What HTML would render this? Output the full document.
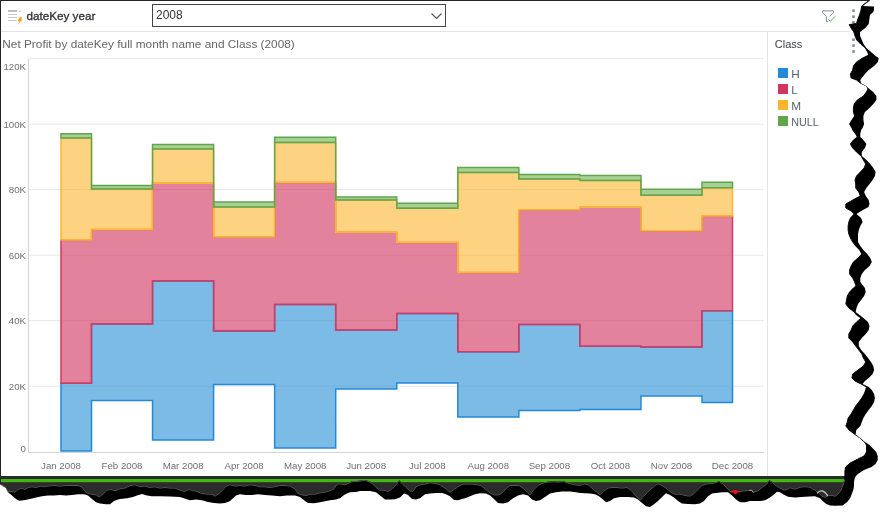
<!DOCTYPE html>
<html><head><meta charset="utf-8"><style>
*{margin:0;padding:0;box-sizing:border-box}
html,body{width:892px;height:523px;overflow:hidden;background:#fff}
body{position:relative;font-family:"Liberation Sans",sans-serif}
.abs{position:absolute}
svg{position:absolute;left:0;top:0;will-change:transform}
</style></head><body>
<svg width="892" height="523" viewBox="0 0 892 523" font-family="Liberation Sans, sans-serif">
<!-- bottom dark bar -->
<rect x="0" y="476" width="846" height="40" fill="#2b2b2b"/>
<rect x="0" y="479" width="846" height="3.2" fill="#3fb70f"/>
<!-- header -->
<g fill="#c6c6c6">
<rect x="8" y="10" width="9" height="2" fill="#bdbdbd"/>
<rect x="8" y="14" width="9" height="1"/>
<rect x="8" y="17" width="9" height="1"/>
<rect x="8" y="20" width="8" height="1"/>
</g>
<path d="M18.2,10.6 L19.6,12 L21,10.6" fill="none" stroke="#b0b0b0" stroke-width="0.8"/>
<path d="M19.6,17.2 L22.4,17.2 L21.1,19.5 L22.6,19.5 L18.2,24 L19.5,21.2 L17.6,21.2 Z" fill="#f7a21b"/>
<text x="26.4" y="19.8" font-size="11.8px" fill="#33333d" stroke="#33333d" stroke-width="0.35" textLength="69" lengthAdjust="spacingAndGlyphs">dateKey year</text>
<rect x="152.5" y="4.5" width="293" height="22" fill="#fff" stroke="#444" stroke-width="1"/>
<text x="156" y="18.6" font-size="12px" fill="#333">2008</text>
<path d="M431.5,13.5 L436.5,18.5 L441.5,13.5" fill="none" stroke="#555" stroke-width="1.2"/>
<!-- filter icon -->
<path d="M822.6,12.8 L822.6,10.9 L833.5,10.9 L833.5,12.8 L829.6,16.4 M822.9,13 L826.4,16.6 L826.4,21.6 L827.8,21.6" fill="none" stroke="#7d8c9c" stroke-width="1"/>
<path d="M828.1,19.4 L830.3,21.4 L835.2,16.3" fill="none" stroke="#46bb46" stroke-width="0.95"/>
<g fill="#7b8fa3">
<rect x="852.2" y="9.4" width="2.6" height="2.6"/><rect x="852.2" y="15.4" width="2.6" height="2.6"/><rect x="852.2" y="21" width="2.6" height="2.6"/>
<rect x="852.2" y="38.4" width="2.6" height="2.6"/><rect x="852.2" y="44.3" width="2.6" height="2.6"/><rect x="852.2" y="50.2" width="2.6" height="2.6"/>
</g>
<line x1="1" x2="850" y1="31.5" y2="31.5" stroke="#e3e3e3" stroke-width="1"/>
<text x="2.3" y="47.6" font-size="11.6px" fill="#666" textLength="292.5" lengthAdjust="spacingAndGlyphs">Net Profit by dateKey full month name and Class (2008)</text>
<!-- legend -->
<line x1="767.5" x2="767.5" y1="32" y2="476" stroke="#e3e3e3" stroke-width="1"/>
<text x="774.8" y="47.5" font-size="11px" fill="#3c4450">Class</text>
<rect x="778" y="68" width="10" height="10" fill="#2489d8"/>
<rect x="778" y="84" width="10" height="10" fill="#d1365e"/>
<rect x="778" y="100" width="10" height="10" fill="#fdb52d"/>
<rect x="778" y="116" width="10" height="10" fill="#5fa64c"/>
<g font-size="11.8px" fill="#5a636e">
<text x="791.2" y="78">H</text>
<text x="791.2" y="94">L</text>
<text x="791.2" y="110">M</text>
<text x="791.2" y="126" textLength="27.6" lengthAdjust="spacingAndGlyphs">NULL</text>
</g>
<!-- chart -->
<line x1="28.5" x2="764" y1="386.2" y2="386.2" stroke="#e6e6e6" stroke-width="1"/>
<line x1="28.5" x2="764" y1="320.7" y2="320.7" stroke="#e6e6e6" stroke-width="1"/>
<line x1="28.5" x2="764" y1="255.2" y2="255.2" stroke="#e6e6e6" stroke-width="1"/>
<line x1="28.5" x2="764" y1="189.7" y2="189.7" stroke="#e6e6e6" stroke-width="1"/>
<line x1="28.5" x2="764" y1="124.2" y2="124.2" stroke="#e6e6e6" stroke-width="1"/>
<line x1="28.5" x2="764" y1="58.7" y2="58.7" stroke="#e6e6e6" stroke-width="1"/>
<line x1="28.5" x2="28.5" y1="59" y2="452.5" stroke="#d4d4d4" stroke-width="1"/>
<line x1="28" x2="764" y1="452.5" y2="452.5" stroke="#d4d4d4" stroke-width="1"/>

<g font-size="9.7px" fill="#707070">
<text x="26" y="451.9" text-anchor="end">0</text>
<text x="26" y="389.9" text-anchor="end">20K</text>
<text x="26" y="324.4" text-anchor="end">40K</text>
<text x="26" y="258.9" text-anchor="end">60K</text>
<text x="26" y="193.4" text-anchor="end">80K</text>
<text x="26" y="127.9" text-anchor="end">100K</text>
<text x="26" y="70.3" text-anchor="end">120K</text>
<text x="61.0" y="469.1" text-anchor="middle">Jan 2008</text>
<text x="122.0" y="469.1" text-anchor="middle">Feb 2008</text>
<text x="183.1" y="469.1" text-anchor="middle">Mar 2008</text>
<text x="244.1" y="469.1" text-anchor="middle">Apr 2008</text>
<text x="305.2" y="469.1" text-anchor="middle">May 2008</text>
<text x="366.2" y="469.1" text-anchor="middle">Jun 2008</text>
<text x="427.3" y="469.1" text-anchor="middle">Jul 2008</text>
<text x="488.3" y="469.1" text-anchor="middle">Aug 2008</text>
<text x="549.4" y="469.1" text-anchor="middle">Sep 2008</text>
<text x="610.4" y="469.1" text-anchor="middle">Oct 2008</text>
<text x="671.5" y="469.1" text-anchor="middle">Nov 2008</text>
<text x="732.5" y="469.1" text-anchor="middle">Dec 2008</text>

</g>
<polygon points="61.00,383.30 91.50,383.30 91.50,323.90 152.55,323.90 152.55,280.90 213.60,280.90 213.60,331.00 274.65,331.00 274.65,304.50 335.70,304.50 335.70,330.00 396.75,330.00 396.75,313.60 457.80,313.60 457.80,351.70 518.85,351.70 518.85,324.50 579.90,324.50 579.90,346.30 640.95,346.30 640.95,347.00 702.00,347.00 702.00,310.70 732.50,310.70 732.50,402.60 702.00,402.60 702.00,396.00 640.95,396.00 640.95,409.50 579.90,409.50 579.90,410.60 518.85,410.60 518.85,417.10 457.80,417.10 457.80,383.00 396.75,383.00 396.75,389.00 335.70,389.00 335.70,448.00 274.65,448.00 274.65,384.40 213.60,384.40 213.60,440.00 152.55,440.00 152.55,400.40 91.50,400.40 91.50,451.00 61.00,451.00" fill="#238ed5" fill-opacity="0.6" stroke="#2389d7" stroke-width="1.5" stroke-linejoin="miter"/>
<polygon points="61.00,240.00 91.50,240.00 91.50,229.40 152.55,229.40 152.55,183.20 213.60,183.20 213.60,236.90 274.65,236.90 274.65,182.50 335.70,182.50 335.70,232.30 396.75,232.30 396.75,242.60 457.80,242.60 457.80,272.50 518.85,272.50 518.85,209.70 579.90,209.70 579.90,207.20 640.95,207.20 640.95,230.80 702.00,230.80 702.00,215.90 732.50,215.90 732.50,310.70 702.00,310.70 702.00,347.00 640.95,347.00 640.95,346.30 579.90,346.30 579.90,324.50 518.85,324.50 518.85,351.70 457.80,351.70 457.80,313.60 396.75,313.60 396.75,330.00 335.70,330.00 335.70,304.50 274.65,304.50 274.65,331.00 213.60,331.00 213.60,280.90 152.55,280.90 152.55,323.90 91.50,323.90 91.50,383.30 61.00,383.30" fill="#cf2f5a" fill-opacity="0.6" stroke="#d13b64" stroke-width="1.5" stroke-linejoin="miter"/>
<polygon points="61.00,137.90 91.50,137.90 91.50,189.10 152.55,189.10 152.55,149.00 213.60,149.00 213.60,207.00 274.65,207.00 274.65,142.40 335.70,142.40 335.70,200.00 396.75,200.00 396.75,208.20 457.80,208.20 457.80,172.60 518.85,172.60 518.85,179.00 579.90,179.00 579.90,180.50 640.95,180.50 640.95,195.30 702.00,195.30 702.00,187.80 732.50,187.80 732.50,215.90 702.00,215.90 702.00,230.80 640.95,230.80 640.95,207.20 579.90,207.20 579.90,209.70 518.85,209.70 518.85,272.50 457.80,272.50 457.80,242.60 396.75,242.60 396.75,232.30 335.70,232.30 335.70,182.50 274.65,182.50 274.65,236.90 213.60,236.90 213.60,183.20 152.55,183.20 152.55,229.40 91.50,229.40 91.50,240.00 61.00,240.00" fill="#fcb62f" fill-opacity="0.6" stroke="#fdb632" stroke-width="1.5" stroke-linejoin="miter"/>
<polygon points="61.00,133.70 91.50,133.70 91.50,185.50 152.55,185.50 152.55,144.40 213.60,144.40 213.60,202.10 274.65,202.10 274.65,137.20 335.70,137.20 335.70,197.00 396.75,197.00 396.75,203.20 457.80,203.20 457.80,167.60 518.85,167.60 518.85,174.50 579.90,174.50 579.90,175.50 640.95,175.50 640.95,189.30 702.00,189.30 702.00,182.30 732.50,182.30 732.50,187.80 702.00,187.80 702.00,195.30 640.95,195.30 640.95,180.50 579.90,180.50 579.90,179.00 518.85,179.00 518.85,172.60 457.80,172.60 457.80,208.20 396.75,208.20 396.75,200.00 335.70,200.00 335.70,142.40 274.65,142.40 274.65,207.00 213.60,207.00 213.60,149.00 152.55,149.00 152.55,189.10 91.50,189.10 91.50,137.90 61.00,137.90" fill="#6bb150" fill-opacity="0.6" stroke="#5fa64c" stroke-width="1.5" stroke-linejoin="miter"/>

<!-- torn: outside content => black -->
<path d="M-5,-5 L897,-5 L897,528 L-5,528 Z M0.0,0.0 L869.5,0.0 L861.5,6.3 L861.5,7.0 L861.0,10.0 L859.5,15.0 L857.5,20.0 L856.5,23.4 L849.2,24.6 L851.0,28.0 L853.8,32.0 L855.0,36.0 L856.7,40.0 L860.7,44.0 L865.3,48.0 L867.6,52.0 L868.7,55.0 L862.6,58.0 L856.5,62.0 L853.4,66.0 L852.7,70.0 L850.4,74.0 L851.1,78.0 L856.5,80.0 L860.3,83.0 L866.4,86.0 L868.0,89.0 L866.4,92.0 L863.4,96.0 L857.3,100.0 L854.2,104.0 L853.4,108.0 L853.4,112.0 L854.7,116.0 L851.9,120.0 L849.6,124.0 L851.9,128.0 L852.7,130.0 L855.7,134.0 L857.3,137.0 L853.4,140.0 L850.4,144.0 L852.7,148.0 L856.5,152.0 L861.1,156.0 L863.4,160.0 L865.7,164.0 L864.1,168.0 L860.3,172.0 L856.5,176.0 L855.0,180.0 L855.7,184.0 L855.7,188.0 L858.8,192.0 L860.3,196.0 L852.7,200.0 L845.8,204.0 L845.8,208.0 L851.1,211.0 L854.2,214.0 L850.4,218.0 L848.8,222.0 L848.1,226.0 L848.1,230.0 L848.8,234.0 L850.4,238.0 L852.7,242.0 L855.7,246.0 L859.6,250.0 L861.8,254.0 L858.0,258.0 L853.4,262.0 L851.1,266.0 L849.6,270.0 L849.6,274.0 L852.7,278.0 L855.0,283.0 L856.0,286.0 L853.4,288.0 L849.6,292.0 L847.3,296.0 L846.5,300.0 L845.8,304.0 L848.8,308.0 L854.2,312.0 L856.5,315.0 L861.1,318.0 L856.5,322.0 L852.7,326.0 L851.1,330.0 L848.8,334.0 L848.8,338.0 L852.7,342.0 L855.7,346.0 L858.8,350.0 L861.8,354.0 L863.4,358.0 L865.7,362.0 L863.4,366.0 L858.0,370.0 L852.7,374.0 L851.9,378.0 L855.0,381.0 L861.1,384.0 L866.4,387.0 L865.7,390.0 L864.1,394.0 L861.8,398.0 L858.8,402.0 L855.7,406.0 L853.4,410.0 L851.1,414.0 L848.1,418.0 L847.3,422.0 L845.8,426.0 L849.0,430.0 L853.0,433.0 L855.0,434.5 L860.0,438.0 L864.5,442.0 L866.4,445.0 L866.5,448.0 L866.5,452.0 L864.0,456.0 L857.9,459.0 L850.2,463.0 L845.6,467.0 L844.9,471.0 L844.9,476.0 L844.7,480.0 L843.0,485.0 L841.0,490.0 L838.0,494.3 L835.0,496.3 L832.0,495.3 L828.0,495.8 L825.0,497.3 L822.0,496.3 L818.0,492.2 L815.0,490.2 L810.0,487.2 L805.0,486.7 L800.0,487.2 L795.0,489.2 L790.0,487.7 L785.0,490.2 L780.0,488.2 L775.0,484.7 L772.0,482.0 L769.0,480.7 L766.0,484.8 L762.0,487.5 L758.0,490.8 L754.0,492.2 L750.0,490.2 L745.0,490.8 L740.0,491.5 L735.0,491.5 L730.0,491.5 L726.0,486.8 L722.0,483.4 L719.0,481.4 L716.0,482.8 L712.0,483.4 L706.0,484.1 L702.0,485.5 L698.0,489.5 L694.0,493.5 L690.0,496.2 L685.0,495.5 L680.0,494.2 L675.0,494.2 L671.0,492.2 L667.0,488.8 L663.0,486.1 L659.0,483.8 L656.0,484.8 L652.0,488.1 L648.0,491.5 L644.0,496.2 L640.0,500.3 L635.0,494.9 L631.0,490.2 L627.0,487.5 L622.0,488.1 L617.0,487.5 L612.0,487.5 L608.0,488.1 L604.0,490.8 L600.0,494.9 L596.0,491.5 L592.0,488.1 L588.0,484.8 L584.0,483.8 L580.0,485.5 L575.0,484.8 L569.0,483.4 L564.0,481.7 L558.0,482.1 L554.0,481.7 L548.0,482.1 L542.0,483.4 L538.0,485.5 L534.0,489.5 L530.0,494.9 L527.0,491.5 L523.0,488.1 L519.0,485.5 L515.0,485.5 L510.0,485.5 L506.0,488.8 L503.0,492.2 L499.0,494.9 L494.0,494.9 L489.0,492.2 L485.0,488.8 L481.0,485.5 L477.0,484.8 L472.0,484.1 L467.0,484.1 L463.0,484.1 L460.0,485.5 L455.0,488.8 L450.0,492.2 L445.0,488.1 L440.0,484.8 L435.0,483.4 L430.0,482.8 L425.0,484.1 L420.0,484.8 L416.0,486.8 L413.0,491.5 L410.0,490.8 L406.0,487.5 L402.0,483.4 L399.0,480.7 L396.0,484.8 L392.0,488.8 L388.0,491.5 L384.0,490.2 L380.0,490.2 L376.0,487.5 L373.0,484.1 L370.0,482.1 L366.0,480.7 L362.0,480.7 L358.0,481.4 L352.0,481.7 L348.0,483.4 L345.0,484.8 L342.0,484.1 L337.0,484.1 L334.0,488.8 L330.0,490.8 L325.0,492.2 L320.0,492.9 L315.0,494.2 L310.0,494.2 L306.0,495.5 L302.0,494.9 L298.0,493.5 L295.0,488.8 L290.0,486.1 L285.0,485.5 L280.0,485.5 L275.0,486.8 L270.0,487.5 L265.0,486.8 L260.0,486.8 L255.0,485.5 L250.0,484.8 L245.0,486.1 L240.0,485.5 L235.0,486.1 L230.0,484.8 L226.0,486.1 L222.0,490.8 L218.0,494.2 L215.0,496.2 L212.0,494.2 L207.0,494.2 L202.0,493.5 L197.0,491.5 L192.0,490.2 L188.0,489.5 L185.0,491.5 L180.0,490.2 L175.0,488.1 L170.0,488.1 L165.0,487.5 L160.0,488.1 L155.0,486.8 L150.0,487.5 L145.0,486.1 L140.0,486.8 L135.0,484.8 L130.0,485.5 L125.0,488.1 L120.0,488.8 L115.0,490.8 L111.0,489.5 L107.0,490.2 L103.0,494.2 L99.0,496.9 L96.0,494.9 L92.0,494.2 L88.0,493.5 L85.0,491.5 L82.0,486.8 L78.0,485.5 L72.0,485.5 L66.0,485.5 L60.0,486.1 L54.0,485.5 L48.0,486.1 L44.0,486.8 L40.0,486.1 L36.0,487.5 L32.0,486.8 L28.0,487.5 L25.0,489.5 L22.0,488.1 L18.0,489.5 L15.0,492.2 L12.0,491.5 L8.0,491.5 L6.0,487.5 L3.0,486.1 L0.0,484.1 L0.0,484.1 Z" fill="#000" fill-rule="evenodd" stroke="#000" stroke-width="0.9"/>
<!-- outside shadow => white -->
<path d="M-5,-5 L897,-5 L897,528 L-5,528 Z M0.0,0.0 L870.0,0.0 L862.5,6.0 L874.0,6.5 L874.0,10.0 L873.3,12.0 L869.9,15.0 L869.3,20.0 L868.7,24.0 L865.3,28.0 L860.1,32.0 L860.1,36.0 L861.8,40.0 L863.5,44.0 L866.4,48.0 L871.0,52.0 L875.6,56.0 L878.7,58.0 L877.9,62.0 L874.1,66.0 L868.7,70.0 L864.9,74.0 L861.8,78.0 L860.3,80.0 L861.0,83.0 L866.0,86.0 L869.5,89.0 L873.3,92.0 L876.4,96.0 L876.4,100.0 L873.3,104.0 L869.5,108.0 L864.9,112.0 L863.4,116.0 L863.4,120.0 L864.1,124.0 L862.6,128.0 L861.1,130.0 L860.3,134.0 L860.3,137.0 L863.4,140.0 L866.4,144.0 L864.9,148.0 L861.8,152.0 L861.8,156.0 L866.4,160.0 L870.3,164.0 L873.3,168.0 L875.6,172.0 L874.9,176.0 L872.6,180.0 L869.5,184.0 L866.4,188.0 L864.1,192.0 L865.7,196.0 L868.7,200.0 L869.5,204.0 L868.5,207.0 L861.1,211.0 L856.5,214.0 L861.1,218.0 L862.6,222.0 L860.3,226.0 L858.8,230.0 L858.0,234.0 L858.0,238.0 L858.0,242.0 L860.3,246.0 L863.4,250.0 L867.2,254.0 L870.3,258.0 L871.8,262.0 L869.5,266.0 L864.9,270.0 L861.8,274.0 L860.3,278.0 L860.3,282.0 L861.8,284.0 L864.9,288.0 L865.7,292.0 L864.1,296.0 L861.1,300.0 L858.0,304.0 L856.5,308.0 L855.7,312.0 L859.6,315.0 L863.4,318.0 L868.0,322.0 L869.5,326.0 L868.7,330.0 L865.7,334.0 L861.8,338.0 L858.8,342.0 L858.8,346.0 L861.1,350.0 L864.9,354.0 L868.0,358.0 L871.0,362.0 L873.3,366.0 L874.1,370.0 L872.6,374.0 L868.7,378.0 L864.9,381.0 L862.6,384.0 L868.7,387.0 L871.8,390.0 L874.1,394.0 L874.9,398.0 L874.1,402.0 L871.8,406.0 L868.7,410.0 L865.7,414.0 L863.4,418.0 L861.8,422.0 L860.3,426.0 L856.3,430.0 L855.6,434.5 L860.3,438.0 L865.0,442.0 L869.6,445.0 L872.4,448.0 L876.2,452.0 L877.7,456.0 L877.7,460.0 L875.5,464.0 L871.6,467.0 L864.0,470.0 L857.9,474.0 L856.0,476.0 L854.8,478.0 L854.0,482.0 L854.0,486.0 L853.3,490.0 L851.8,494.0 L850.2,498.0 L847.2,502.0 L842.6,505.5 L835.0,505.7 L830.0,505.4 L826.0,503.8 L823.0,501.3 L820.0,498.3 L815.0,496.3 L805.0,496.8 L795.0,497.5 L788.0,496.8 L784.0,494.8 L780.0,492.2 L777.0,491.7 L773.0,495.3 L770.0,497.5 L765.0,500.3 L760.0,500.9 L755.0,500.9 L750.0,500.9 L745.0,502.3 L740.0,502.3 L736.0,499.6 L732.0,495.5 L728.0,492.2 L722.0,492.2 L716.0,492.9 L712.0,493.5 L708.0,496.2 L704.0,500.9 L700.0,503.6 L695.0,504.3 L688.0,504.0 L682.0,503.6 L678.0,500.9 L674.0,497.6 L670.0,494.9 L666.0,493.3 L662.0,496.9 L658.0,500.9 L654.0,504.3 L650.0,507.0 L646.0,506.3 L642.0,502.9 L638.0,499.6 L634.0,497.6 L628.0,496.9 L620.0,496.9 L614.0,498.2 L610.0,500.9 L606.0,502.3 L603.0,499.6 L599.0,496.2 L595.0,494.2 L590.0,493.5 L585.0,493.3 L580.0,492.9 L576.0,492.2 L570.0,491.5 L562.0,491.5 L556.0,492.2 L550.0,493.5 L545.0,496.9 L540.0,500.3 L536.0,500.9 L532.0,499.6 L528.0,495.5 L523.0,494.2 L518.0,495.5 L513.0,498.2 L508.0,502.3 L503.0,503.6 L498.0,502.9 L494.0,498.9 L490.0,495.5 L486.0,493.5 L480.0,493.3 L475.0,494.2 L470.0,496.2 L465.0,498.2 L462.0,498.9 L458.0,500.3 L454.0,500.0 L450.0,496.2 L446.0,494.2 L442.0,492.9 L436.0,492.9 L430.0,493.5 L425.0,494.2 L420.0,498.2 L416.0,499.6 L412.0,498.9 L408.0,494.9 L404.0,493.5 L400.0,497.6 L395.0,499.3 L390.0,499.6 L385.0,499.6 L380.0,495.5 L376.0,492.2 L370.0,491.1 L360.0,491.1 L356.0,491.9 L350.0,492.2 L348.0,492.9 L344.0,494.9 L340.0,498.2 L336.0,499.6 L330.0,500.3 L325.0,501.3 L320.0,502.3 L314.0,503.2 L308.0,502.9 L305.0,500.9 L300.0,496.9 L295.0,495.5 L287.0,495.5 L280.0,496.2 L272.0,495.5 L265.0,494.9 L258.0,494.2 L252.0,494.9 L246.0,494.9 L240.0,494.2 L236.0,495.5 L233.0,498.2 L230.0,500.9 L229.0,501.6 L225.0,502.9 L220.0,503.6 L214.0,502.9 L208.0,501.9 L202.0,500.3 L196.0,499.6 L190.0,500.3 L186.0,498.9 L180.0,496.9 L170.0,496.5 L160.0,496.2 L152.0,496.2 L147.0,495.5 L142.0,493.9 L137.0,495.5 L133.0,496.9 L127.0,498.2 L120.0,498.9 L118.0,499.6 L114.0,500.9 L110.0,504.3 L106.0,504.3 L100.0,503.6 L96.0,502.3 L92.0,498.9 L88.0,495.5 L84.0,494.2 L78.0,494.2 L72.0,494.9 L66.0,495.5 L60.0,495.1 L54.0,495.5 L48.0,495.5 L42.0,496.2 L36.0,497.6 L30.0,498.9 L24.0,500.3 L19.0,500.7 L16.0,498.9 L12.0,495.5 L8.0,492.2 L6.0,488.1 L3.0,485.5 L0.0,484.1 Z" fill="#fff" fill-rule="evenodd"/>
<polyline points="844.7,480.0 843.0,485.0 841.0,490.0 838.0,494.3 835.0,496.3 832.0,495.3 828.0,495.8 825.0,497.3 822.0,496.3 818.0,492.2 815.0,490.2 810.0,487.2 805.0,486.7 800.0,487.2 795.0,489.2 790.0,487.7 785.0,490.2 780.0,488.2 775.0,484.7 772.0,482.0 769.0,480.7 766.0,484.8 762.0,487.5 758.0,490.8 754.0,492.2 750.0,490.2 745.0,490.8 740.0,491.5 735.0,491.5 730.0,491.5 726.0,486.8 722.0,483.4 719.0,481.4 716.0,482.8 712.0,483.4 706.0,484.1 702.0,485.5 698.0,489.5 694.0,493.5 690.0,496.2 685.0,495.5 680.0,494.2 675.0,494.2 671.0,492.2 667.0,488.8 663.0,486.1 659.0,483.8 656.0,484.8 652.0,488.1 648.0,491.5 644.0,496.2 640.0,500.3 635.0,494.9 631.0,490.2 627.0,487.5 622.0,488.1 617.0,487.5 612.0,487.5 608.0,488.1 604.0,490.8 600.0,494.9 596.0,491.5 592.0,488.1 588.0,484.8 584.0,483.8 580.0,485.5 575.0,484.8 569.0,483.4 564.0,481.7 558.0,482.1 554.0,481.7 548.0,482.1 542.0,483.4 538.0,485.5 534.0,489.5 530.0,494.9 527.0,491.5 523.0,488.1 519.0,485.5 515.0,485.5 510.0,485.5 506.0,488.8 503.0,492.2 499.0,494.9 494.0,494.9 489.0,492.2 485.0,488.8 481.0,485.5 477.0,484.8 472.0,484.1 467.0,484.1 463.0,484.1 460.0,485.5 455.0,488.8 450.0,492.2 445.0,488.1 440.0,484.8 435.0,483.4 430.0,482.8 425.0,484.1 420.0,484.8 416.0,486.8 413.0,491.5 410.0,490.8 406.0,487.5 402.0,483.4 399.0,480.7 396.0,484.8 392.0,488.8 388.0,491.5 384.0,490.2 380.0,490.2 376.0,487.5 373.0,484.1 370.0,482.1 366.0,480.7 362.0,480.7 358.0,481.4 352.0,481.7 348.0,483.4 345.0,484.8 342.0,484.1 337.0,484.1 334.0,488.8 330.0,490.8 325.0,492.2 320.0,492.9 315.0,494.2 310.0,494.2 306.0,495.5 302.0,494.9 298.0,493.5 295.0,488.8 290.0,486.1 285.0,485.5 280.0,485.5 275.0,486.8 270.0,487.5 265.0,486.8 260.0,486.8 255.0,485.5 250.0,484.8 245.0,486.1 240.0,485.5 235.0,486.1 230.0,484.8 226.0,486.1 222.0,490.8 218.0,494.2 215.0,496.2 212.0,494.2 207.0,494.2 202.0,493.5 197.0,491.5 192.0,490.2 188.0,489.5 185.0,491.5 180.0,490.2 175.0,488.1 170.0,488.1 165.0,487.5 160.0,488.1 155.0,486.8 150.0,487.5 145.0,486.1 140.0,486.8 135.0,484.8 130.0,485.5 125.0,488.1 120.0,488.8 115.0,490.8 111.0,489.5 107.0,490.2 103.0,494.2 99.0,496.9 96.0,494.9 92.0,494.2 88.0,493.5 85.0,491.5 82.0,486.8 78.0,485.5 72.0,485.5 66.0,485.5 60.0,486.1 54.0,485.5 48.0,486.1 44.0,486.8 40.0,486.1 36.0,487.5 32.0,486.8 28.0,487.5 25.0,489.5 22.0,488.1 18.0,489.5 15.0,492.2 12.0,491.5 8.0,491.5 6.0,487.5 3.0,486.1 0.0,484.1" fill="none" stroke="#555" stroke-width="1"/>
<!-- frame borders -->
<rect x="0" y="0" width="869.5" height="1" fill="#252525"/>
<rect x="0" y="0" width="1" height="484" fill="#252525"/>
<line x1="869.5" y1="0.3" x2="861.5" y2="6.5" stroke="#222" stroke-width="1"/>
<!-- small leftovers -->
<path d="M731,492.8 Q731.5,490 735,490 Q738.8,490 739.1,492.5 L737,492.6 L736.4,494.3 L734.6,494.3 L734,492.8 Z" fill="#f01010"/>
<path d="M749,490.5 L751.5,490 L753.5,492.8" fill="none" stroke="#bbb" stroke-width="0.8"/>
<path d="M817,493.4 Q822,487.2 827.8,495.8" fill="none" stroke="#c4c4c4" stroke-width="1.3"/>
</svg>
</body></html>
